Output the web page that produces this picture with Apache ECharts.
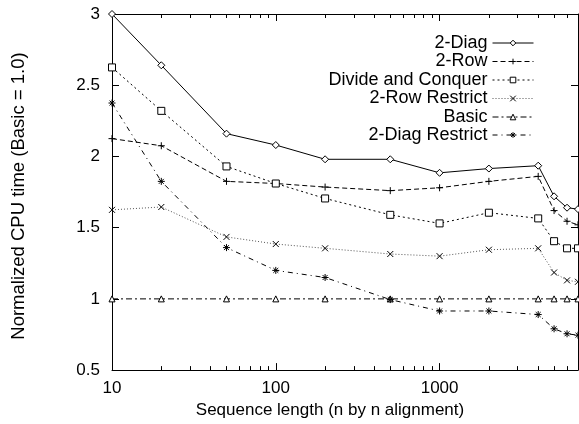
<!DOCTYPE html>
<html>
<head>
<meta charset="utf-8">
<script src="https://cdn.jsdelivr.net/npm/echarts@6/dist/echarts.min.js"></script>
<style>
  html, body { margin: 0; padding: 0; background: #fff; }
  #chart { width: 579px; height: 424px; }
</style>
</head>
<body>
<div id="chart"></div>
<script>
// sequence lengths (x, log scale)
const lengths = [10, 20, 50, 100, 200, 500, 1000, 2000, 4000, 5000, 6000, 7000]
// normalized CPU time per algorithm
const diag2 = [3.0, 2.64, 2.16, 2.08, 1.98, 1.98, 1.885, 1.915, 1.935, 1.72, 1.64, 1.63]
const row2 = [2.125, 2.075, 1.825, 1.81, 1.785, 1.76, 1.78, 1.825, 1.86, 1.62, 1.545, 1.52]
const divideConquer = [2.625, 2.32, 1.93, 1.81, 1.705, 1.59, 1.53, 1.605, 1.565, 1.405, 1.355, 1.355]
const row2Restrict = [1.625, 1.645, 1.435, 1.385, 1.355, 1.315, 1.3, 1.345, 1.355, 1.185, 1.13, 1.12]
const basic = [1, 1, 1, 1, 1, 1, 1, 1, 1, 1, 1, 1]
const diag2Restrict = [2.375, 1.825, 1.36, 1.2, 1.15, 0.995, 0.915, 0.915, 0.89, 0.79, 0.755, 0.745]

const xMajorTicks = [10, 100, 1000]
const xMinorTicks = [20, 30, 40, 50, 60, 70, 80, 90, 200, 300, 400, 500, 600, 700, 800, 900,
  2000, 3000, 4000, 5000, 6000]
const yTicks = [0.5, 1, 1.5, 2, 2.5, 3]
const xMin = 10
const xMax = 7000

const font = "'Liberation Sans', Arial, sans-serif"

const pairs = (vals) => lengths.map((x, i) => [x, vals[i]])

const seriesDefs = [
  { name: '2-Diag', data: diag2, symbol: 'diamond', size: 7, dash: 'solid', color: '#000', row: 43 },
  { name: '2-Row', data: row2, symbol: 'path://M0,5L10,5M5,0L5,10', size: 7, dash: [5, 3], color: '#000', row: 61.5 },
  { name: 'Divide and Conquer', data: divideConquer, symbol: 'rect', size: 7, dash: [2, 3], color: '#000', row: 80 },
  { name: '2-Row Restrict', data: row2Restrict, symbol: 'path://M0,0L10,10M10,0L0,10', size: 6, dash: [1, 2], color: '#555', row: 98.5 },
  { name: 'Basic', data: basic, symbol: 'triangle', size: 6, dash: [6, 3, 2, 3], color: '#000', row: 117 },
  { name: '2-Diag Restrict', data: diag2Restrict, symbol: 'path://M0,5L10,5M5,0L5,10M1.5,1.5L8.5,8.5M8.5,1.5L1.5,8.5', size: 7, dash: [5, 4, 1, 4], color: '#000', row: 135 }
]

const tick = (len, values) => ({
  show: true,
  inside: true,
  length: len,
  customValues: values,
  lineStyle: { color: '#000', width: 1 }
})

// main log axis, carries the labels and the frame line
const logAxis = (extra) => Object.assign({
  type: 'log',
  logBase: 10,
  min: xMin,
  max: xMax,
  splitLine: { show: false },
  axisLine: { show: true, lineStyle: { color: '#000', width: 1 } },
  axisTick: { show: false },
  axisLabel: { show: false }
}, extra)

// tick-only axis in log10 space
const tickAxis = (position, values, len) => ({
  type: 'value',
  position: position,
  min: Math.log10(xMin),
  max: Math.log10(xMax),
  splitLine: { show: false },
  axisLine: { show: false },
  axisTick: tick(len, values.map(v => Math.log10(v))),
  axisLabel: { show: false }
})

const yAxisBase = (position, extra) => Object.assign({
  type: 'value',
  position: position,
  min: 0.5,
  max: 3,
  interval: 0.5,
  splitLine: { show: false },
  axisLine: { show: true, lineStyle: { color: '#000', width: 1 } },
  axisTick: tick(7, yTicks),
  axisLabel: { show: false }
}, extra)

const option = {
  animation: false,
  backgroundColor: '#fff',
  grid: { left: 112, right: 1, top: 14, bottom: 48 },
  legend: seriesDefs.map(s => ({
    data: [s.name],
    orient: 'vertical',
    align: 'right',
    right: 45,
    top: s.row - 9,
    padding: 0,
    itemWidth: 41,
    itemHeight: 7,
    selectedMode: false,
    lineStyle: { width: 1 },
    itemStyle: { borderWidth: 1 },
    textStyle: { fontFamily: font, fontSize: 18, color: '#000', lineHeight: 18 }
  })),
  xAxis: [
    logAxis({
      position: 'bottom',
      name: 'Sequence length (n by n alignment)',
      nameLocation: 'middle',
      nameGap: 28,
      nameTextStyle: { fontFamily: font, fontSize: 17, color: '#000', padding: [0, 30, 0, 0] },
      axisLabel: {
        show: true, margin: 10, fontFamily: font, fontSize: 17, color: '#000',
        showMaxLabel: false,
        formatter: (v) => String(v)
      }
    }),
    tickAxis('bottom', xMajorTicks, 7),
    tickAxis('bottom', xMinorTicks, 4),
    tickAxis('top', xMajorTicks, 7),
    tickAxis('top', xMinorTicks, 4),
    logAxis({ position: 'top' })
  ],
  yAxis: [
    yAxisBase('left', {
      name: 'Normalized CPU time (Basic = 1.0)',
      nameLocation: 'middle',
      nameGap: 84,
      nameTextStyle: { fontFamily: font, fontSize: 18.5, color: '#000', padding: [0, 8, 0, 0] },
      axisLabel: { show: true, margin: 12, fontFamily: font, fontSize: 17, color: '#000' }
    }),
    yAxisBase('right')
  ],
  series: seriesDefs.map(s => ({
    name: s.name,
    type: 'line',
    xAxisIndex: 0,
    yAxisIndex: 0,
    data: pairs(s.data),
    symbol: s.symbol,
    symbolSize: s.size,
    showAllSymbol: true,
    clip: true,
    lineStyle: { color: s.color, width: 1, type: s.dash },
    itemStyle: { color: '#fff', borderColor: '#000', borderWidth: 1 },
    emphasis: { disabled: true }
  }))
}

const chart = echarts.init(document.getElementById('chart'))
chart.setOption(option)
</script>
</body>
</html>
